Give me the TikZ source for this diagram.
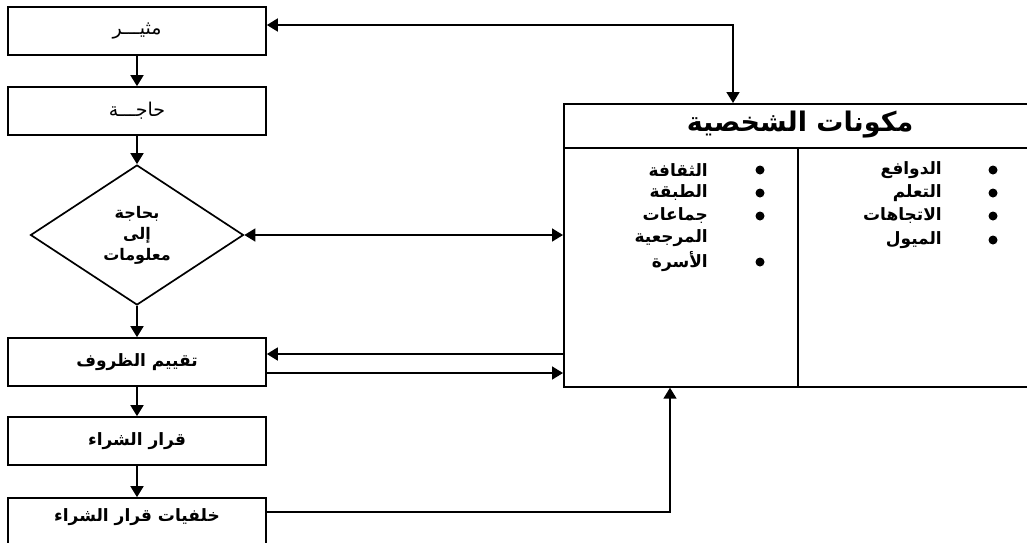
\documentclass[tikz,border=0pt]{standalone}
\usepackage{fontspec}
\newfontfamily\arabicfont[Script=Arabic]{DejaVu Sans}
\TeXXeTstate=1
\usetikzlibrary{arrows.meta,shapes.geometric}
\begin{document}
\begin{tikzpicture}[x=1pt,y=-1pt,
  lw/.style={line width=1.7pt},
  box/.style={draw, lw, minimum width=258pt, minimum height=48pt, inner sep=0pt,
    font=\arabicfont\fontsize{19}{20}\selectfont},
  boxb/.style={box, font=\arabicfont\bfseries\fontsize{17}{20}\selectfont},
  arr/.style={lw, -{Triangle[length=11pt,width=13pt]}},
  darr/.style={lw, {Triangle[length=11pt,width=13pt]}-{Triangle[length=11pt,width=13pt]}},
  itemtxt/.style={anchor=east, inner sep=0pt, font=\arabicfont\bfseries\fontsize{17}{19}\selectfont},
  dot/.style={circle, fill, inner sep=0pt, minimum size=9pt},
]
\clip (0,0) rectangle (1027,542);
% left chain
\node[box] (b1) at (137,31) {\beginR مثيـــر\endR};
\node[box] (b2) at (137,111) {\beginR حاجـــة\endR};
\node[diamond, draw, lw, minimum width=213pt, minimum height=140pt, inner sep=0pt,
  align=center, font=\arabicfont\bfseries\fontsize{16}{21}\selectfont] (dia) at (137,235)
  {\beginR بحاجة\endR\\\beginR إلى\endR\\\beginR معلومات\endR};
\node[boxb] (b4) at (137,362) {\beginR تقييم الظروف\endR};
\node[boxb] (b5) at (137,441) {\beginR قرار الشراء\endR};
\node[boxb, text depth=14pt] (b6) at (137,522) {\beginR خلفيات قرار الشراء\endR};
% personality box
\node[draw, lw, anchor=north west, minimum width=474pt, minimum height=283pt, inner sep=0pt] (pers) at (563,103) {};
\coordinate (hl) at (563,148);
\draw[lw] (hl) -- (hl -| pers.east);
\coordinate (dv) at (798,148);
\draw[lw] (dv) -- (dv |- pers.south);
\node[font=\arabicfont\bfseries\fontsize{27}{30}\selectfont, inner sep=0pt] (hdr) at (800,125) {\beginR مكونات الشخصية\endR};
% left column
\node[itemtxt] (l1) at (708,170) {\beginR الثقافة\endR};
\node[itemtxt] (l2) at (708,193) {\beginR الطبقة\endR};
\node[itemtxt] (l3) at (708,216) {\beginR جماعات\endR};
\node[itemtxt] (l4) at (708,238) {\beginR المرجعية\endR};
\node[itemtxt] (l5) at (708,262) {\beginR الأسرة\endR};
\node[dot] (ld1) at (760,170) {};
\node[dot] (ld2) at (760,193) {};
\node[dot] (ld3) at (760,216) {};
\node[dot] (ld5) at (760,262) {};
% right column
\node[itemtxt] (r1) at (942,170) {\beginR الدوافع\endR};
\node[itemtxt] (r2) at (942,193) {\beginR التعلم\endR};
\node[itemtxt] (r3) at (942,216) {\beginR الاتجاهات\endR};
\node[itemtxt] (r4) at (942,240) {\beginR الميول\endR};
\node[dot] (rd1) at (993,170) {};
\node[dot] (rd2) at (993,193) {};
\node[dot] (rd3) at (993,216) {};
\node[dot] (rd4) at (993,240) {};
% connectors
\draw[arr] (b1.south) -- (b2.north);
\draw[arr] (b2.south) -- (dia.north);
\draw[arr] (dia.south) -- (b4.north);
\draw[arr] (b4.south) -- (b5.north);
\draw[arr] (b5.south) -- (b6.north);
\coordinate (c1) at (733,25);
\draw[darr] (b1.east |- c1) -- (c1) -- (c1 |- pers.north);
\draw[darr] (dia.east) -- (dia.east -| pers.west);
\coordinate (c3) at (563,354);
\draw[arr] (c3) -- (c3 -| b4.east);
\coordinate (c4) at (563,373);
\draw[arr] (c4 -| b4.east) -- (c4);
\coordinate (c2) at (670,512);
\draw[arr] (c2 -| b6.east) -- (c2) -- (c2 |- pers.south);
\end{tikzpicture}
\end{document}
